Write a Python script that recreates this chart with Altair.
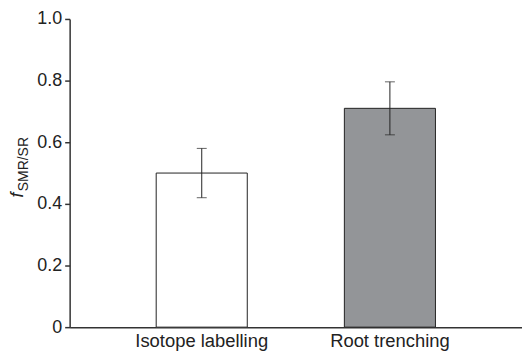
import altair as alt
import pandas as pd

categories = ["Isotope labelling", "Root trenching"]
values = [0.50, 0.71]
errors = [0.08, 0.086]
fills = ["#ffffff", "#939598"]

df = pd.DataFrame({
    "cat": categories,
    "val": values,
    "lo": [v - e for v, e in zip(values, errors)],
    "hi": [v + e for v, e in zip(values, errors)],
    "fill": fills,
})

xscale = alt.Scale(domain=categories, paddingInner=0.516, paddingOuter=0.46)
yscale = alt.Scale(domain=[0, 1], nice=False)

base = alt.Chart(df)

bars = base.mark_bar(stroke="#222222", strokeWidth=1).encode(
    x=alt.X("cat:N", scale=xscale, sort=categories,
            axis=alt.Axis(title=None, labelAngle=0, ticks=False, labelPadding=4,
                          labelFontSize=18.5, labelFont="Liberation Sans",
                          labelColor="#222222", domainColor="#333333",
                          domainWidth=1.5)),
    y=alt.Y("val:Q", scale=yscale,
            axis=alt.Axis(title=None, values=[0, 0.2, 0.4, 0.6, 0.8, 1.0],
                          labelExpr="datum.value == 0 ? '0' : format(datum.value, '.1f')",
                          grid=False, tickSize=5, tickColor="#333333", tickWidth=1.5,
                          labelPadding=3, labelFontSize=18, labelFont="Liberation Sans",
                          labelColor="#222222", domainColor="#333333", domainWidth=1.5)),
    fill=alt.Fill("fill:N", scale=None),
)

rules = base.mark_rule(color="#222222", strokeWidth=1).encode(
    x=alt.X("cat:N", scale=xscale, sort=categories),
    y=alt.Y("lo:Q", scale=yscale),
    y2="hi:Q",
)

caps_hi = base.mark_tick(color="#222222", thickness=1, size=10).encode(
    x=alt.X("cat:N", scale=xscale, sort=categories),
    y=alt.Y("hi:Q", scale=yscale),
)
caps_lo = base.mark_tick(color="#222222", thickness=1, size=10).encode(
    x=alt.X("cat:N", scale=xscale, sort=categories),
    y=alt.Y("lo:Q", scale=yscale),
)

title_f = alt.Chart(pd.DataFrame({"t": ["f"]})).mark_text(
    angle=270, fontStyle="italic", fontSize=18, font="Liberation Sans",
    align="center", baseline="middle", color="#222222"
).encode(x=alt.value(-52), y=alt.value(177), text="t:N")

title_sub = alt.Chart(pd.DataFrame({"t": ["SMR/SR"]})).mark_text(
    angle=270, fontSize=14, font="Liberation Sans",
    align="center", baseline="middle", color="#222222"
).encode(x=alt.value(-46), y=alt.value(146), text="t:N")

chart = alt.layer(bars, rules, caps_hi, caps_lo, title_f, title_sub).properties(
    width=455, height=310,
    autosize=alt.AutoSizeParams(type="none"),
    padding={"left": 62, "top": 10, "right": 0, "bottom": 29},
).configure_view(stroke=None)

chart.save("out.html", embed_options={"renderer": "svg", "actions": False})
